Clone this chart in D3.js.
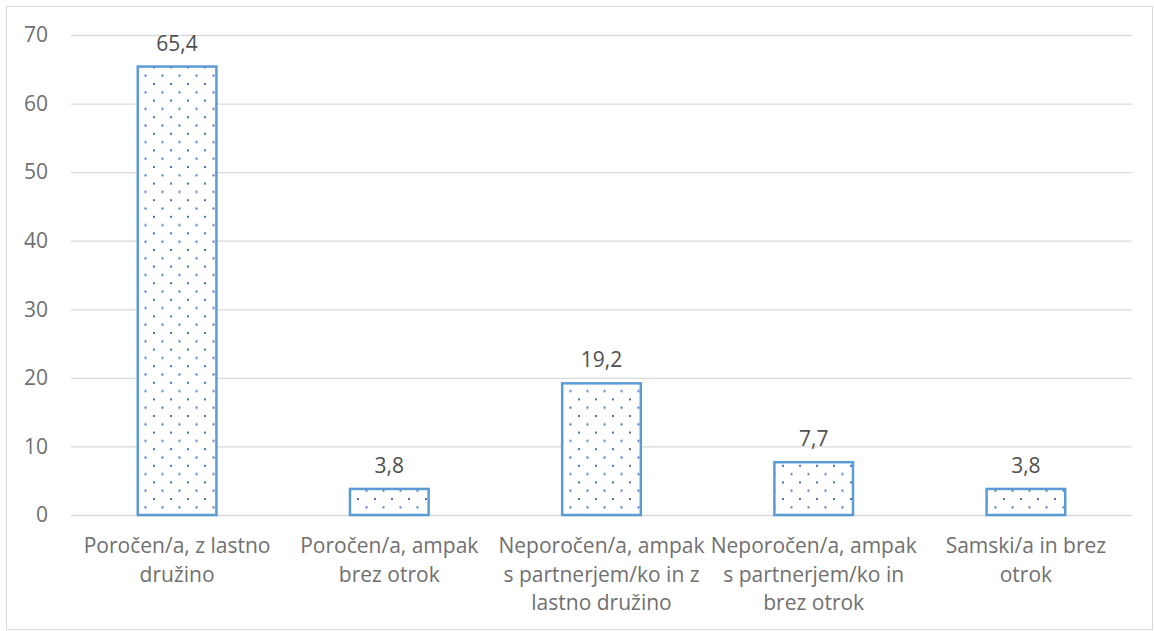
<!DOCTYPE html>
<html><head><meta charset="utf-8">
<script src="https://cdn.jsdelivr.net/npm/d3@7"></script>
<style>body{margin:0;background:#fff}svg{display:block}</style>
</head><body>
<svg id="c" width="1154" height="631"></svg>
<script>
const categories = [
  "Poročen/a, z lastno\ndružino",
  "Poročen/a, ampak\nbrez otrok",
  "Neporočen/a, ampak\ns partnerjem/ko in z\nlastno družino",
  "Neporočen/a, ampak\ns partnerjem/ko in\nbrez otrok",
  "Samski/a in brez\notrok"
];
const values = [65.4, 3.8, 19.2, 7.7, 3.8];
const valueLabels = ["65,4", "3,8", "19,2", "7,7", "3,8"];
const yTicks = [0, 10, 20, 30, 40, 50, 60, 70];

const svg = d3.select("#c");
const W = 1154, H = 631;
const m = {l: 71, r: 22, t: 35, b: 116};
const font = "'Open Sans', 'Liberation Sans', sans-serif";

svg.append("rect").attr("x", 6.5).attr("y", 6.5).attr("width", W - 8).attr("height", H - 8)
  .attr("fill", "#fff").attr("stroke", "#d9d9d9").attr("stroke-width", 1);

const defs = svg.append("defs");
const pat = defs.append("pattern").attr("id", "dots").attr("patternUnits", "userSpaceOnUse")
  .attr("width", 17).attr("height", 16.6);
pat.append("rect").attr("width", 17).attr("height", 16.6).attr("fill", "#fff");
pat.append("rect").attr("x", 0).attr("y", 0).attr("width", 2).attr("height", 2).attr("fill", "#4472C4");
pat.append("rect").attr("x", 8.5).attr("y", 8.3).attr("width", 2).attr("height", 2).attr("fill", "#4472C4");

const x = d3.scaleBand().domain(categories).range([m.l, W - m.r]).paddingInner(0.62).paddingOuter(0.31);
const y = d3.scaleLinear().domain([0, 70]).range([H - m.b, m.t]);

const g = svg.append("g");
g.selectAll("line.grid").data(yTicks).join("line").attr("class", "grid")
  .attr("x1", m.l).attr("x2", W - m.r).attr("y1", d => y(d) + 0.5).attr("y2", d => y(d) + 0.5)
  .attr("stroke", "#d9d9d9").attr("stroke-width", 1.3);

const yAxis = d3.axisLeft(y).tickValues(yTicks).tickSize(0).tickPadding(0);
const ya = svg.append("g").attr("transform", `translate(48,0)`).call(yAxis);
ya.select(".domain").remove();
ya.selectAll("text").attr("font-family", font).attr("font-size", 21).attr("fill", "#707070");

g.selectAll("rect.bar").data(values).join("rect").attr("class", "bar")
  .attr("x", (d, i) => x(categories[i]) + 1)
  .attr("width", x.bandwidth() - 2)
  .attr("y", d => y(d))
  .attr("height", d => y(0) - y(d))
  .attr("fill", "url(#dots)").attr("stroke", "#5B9BD5").attr("stroke-width", 2.5);

g.selectAll("text.val").data(values).join("text").attr("class", "val")
  .attr("x", (d, i) => x(categories[i]) + x.bandwidth() / 2)
  .attr("y", d => y(d) - 16)
  .attr("text-anchor", "middle").attr("font-family", font).attr("font-size", 21).attr("fill", "#505050")
  .text((d, i) => valueLabels[i]);

const xl = svg.append("g");
categories.forEach(c => {
  const lines = c.split("\n");
  const t = xl.append("text").attr("text-anchor", "middle").attr("font-family", font)
    .attr("font-size", 21).attr("fill", "#707070");
  lines.forEach((ln, j) => {
    t.append("tspan").attr("x", x(c) + x.bandwidth() / 2).attr("y", 553 + j * 28.5).text(ln);
  });
});
</script>
</body></html>
